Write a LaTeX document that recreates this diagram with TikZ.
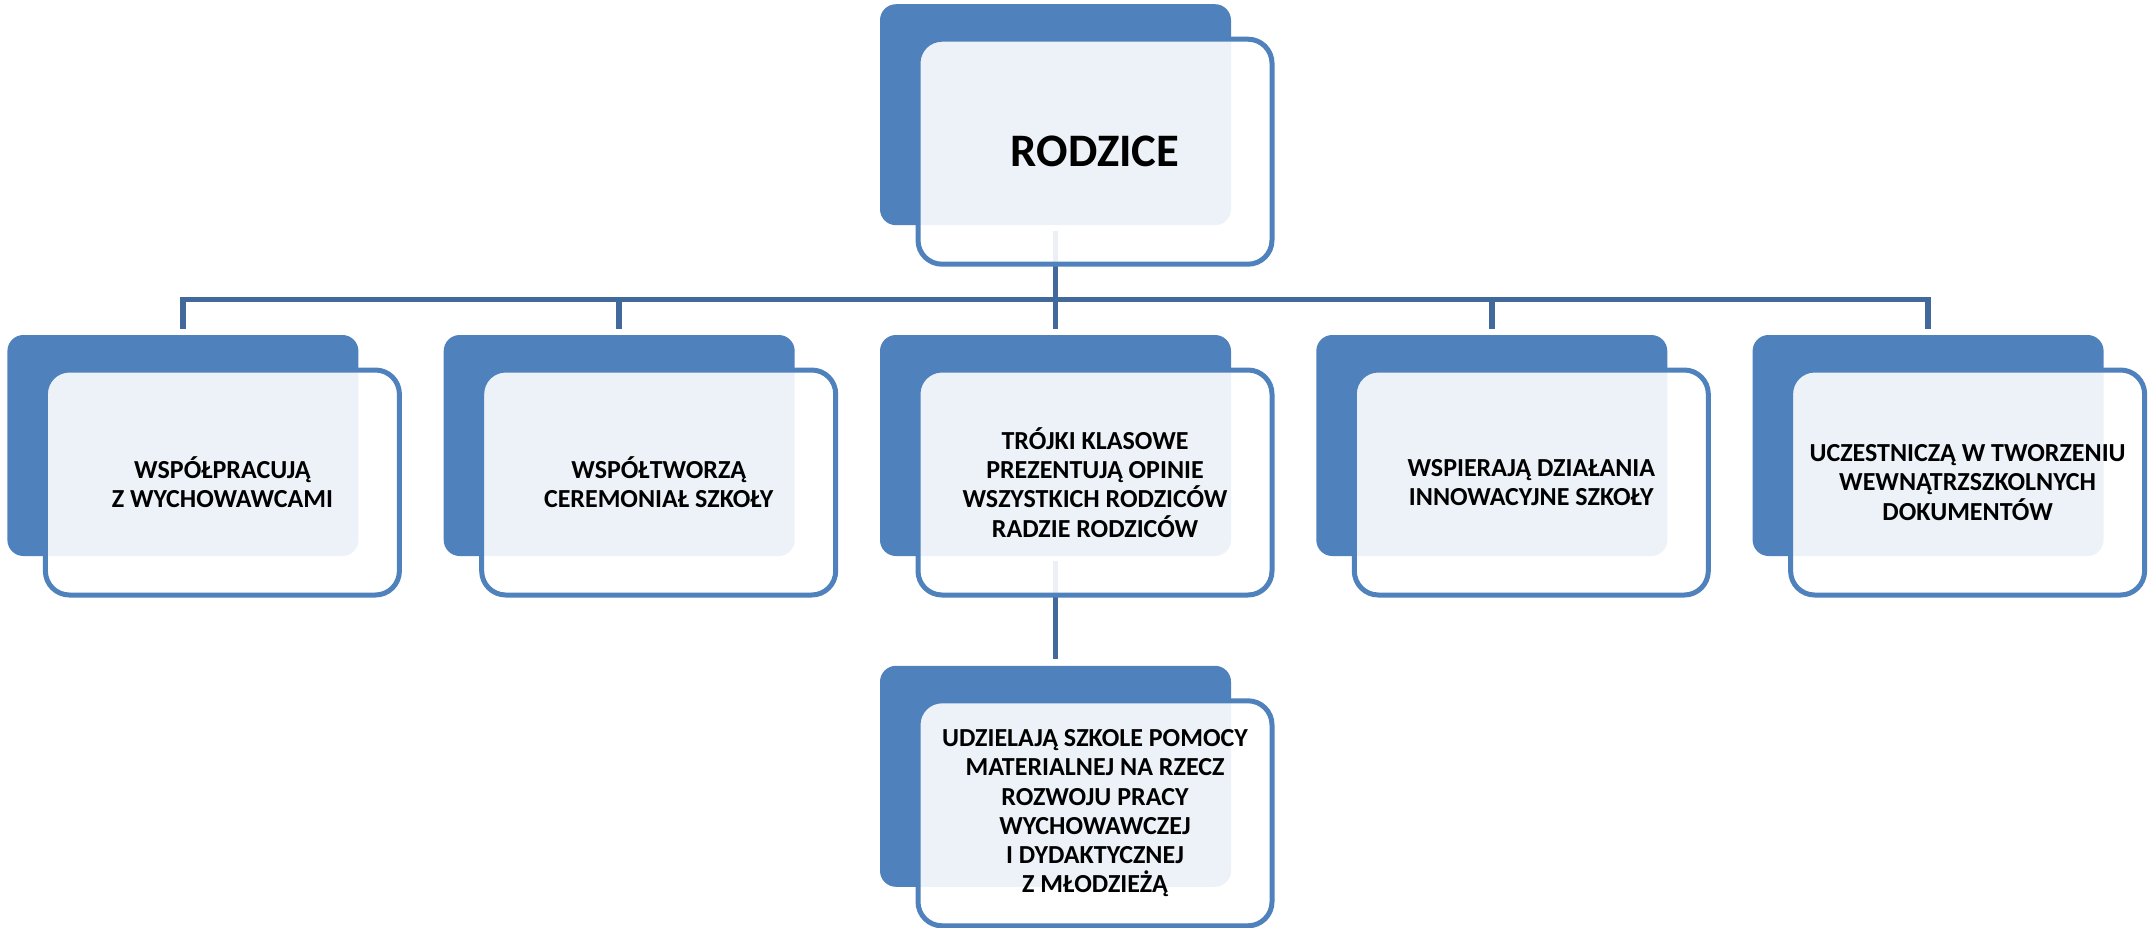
\documentclass[tikz,border=0pt]{standalone}
\usepackage{fontspec}
\setmainfont{Carlito}
\usetikzlibrary{positioning}

\definecolor{boxblue}{HTML}{4F81BD}
\definecolor{linkblue}{HTML}{41699C}

\begin{document}
\begin{tikzpicture}[
  x=1pt, y=1pt,
  backbox/.style  = {fill=boxblue, rounded corners=8pt, minimum width=175.5pt, minimum height=110.5pt, inner sep=0pt},
  frontbox/.style = {draw=boxblue, line width=2.5pt, fill=white, fill opacity=0.9, text opacity=1,
                     rounded corners=12pt, minimum width=177pt, minimum height=112.5pt, inner sep=0pt,
                     align=center, font=\bfseries\fontsize{13}{14.6}\selectfont, xshift=19.75pt, yshift=-18.5pt},
  rootbox/.style  = {frontbox, font=\bfseries\fontsize{23.3}{28}\selectfont},
  link/.style     = {draw=linkblue, line width=2.75pt, shorten <=2.5pt, shorten >=3pt}]

	\useasboundingbox (0,0) rectangle (1077,-463.5);

	% dark boxes behind, the middle one first, the others relatively positioned
	\node[backbox] (b3) at (527.75,-222.75) {};
	\node[backbox, above=54.5pt of b3] (rb) {};
	\node[backbox, left=42.25pt of b3] (b2) {};
	\node[backbox, left=42.25pt of b2] (b1) {};
	\node[backbox, right=42.25pt of b3] (b4) {};
	\node[backbox, right=42.25pt of b4] (b5) {};
	\node[backbox, below=54.5pt of b3] (b6) {};

	% lines from the root to every one of its children
	\foreach \value in {1,...,5}
	  \draw[link] (rb.south) -- ++(0,-37) -| (b\value.north);
	\draw[link] (b3.south) -- (b6.north);

	% light boxes in front, with the texts
	\node[rootbox] (root) at (rb) {RODZICE};
	\node[frontbox] (c1) at (b1) {WSPÓŁPRACUJĄ\\Z WYCHOWAWCAMI};
	\node[frontbox] (c2) at (b2) {WSPÓŁTWORZĄ\\CEREMONIAŁ SZKOŁY};
	\node[frontbox] (c3) at (b3) {TRÓJKI KLASOWE\\PREZENTUJĄ OPINIE\\WSZYSTKICH RODZICÓW\\RADZIE RODZICÓW};
	\node[frontbox] (c4) at (b4) {WSPIERAJĄ DZIAŁANIA\\INNOWACYJNE SZKOŁY};
	\node[frontbox] (c5) at (b5) {UCZESTNICZĄ W TWORZENIU\\WEWNĄTRZSZKOLNYCH\\DOKUMENTÓW};
	\node[frontbox] (c6) at (b6) {UDZIELAJĄ SZKOLE POMOCY\\MATERIALNEJ NA RZECZ\\ROZWOJU PRACY\\WYCHOWAWCZEJ\\I DYDAKTYCZNEJ\\Z MŁODZIEŻĄ};
\end{tikzpicture}
\end{document}
